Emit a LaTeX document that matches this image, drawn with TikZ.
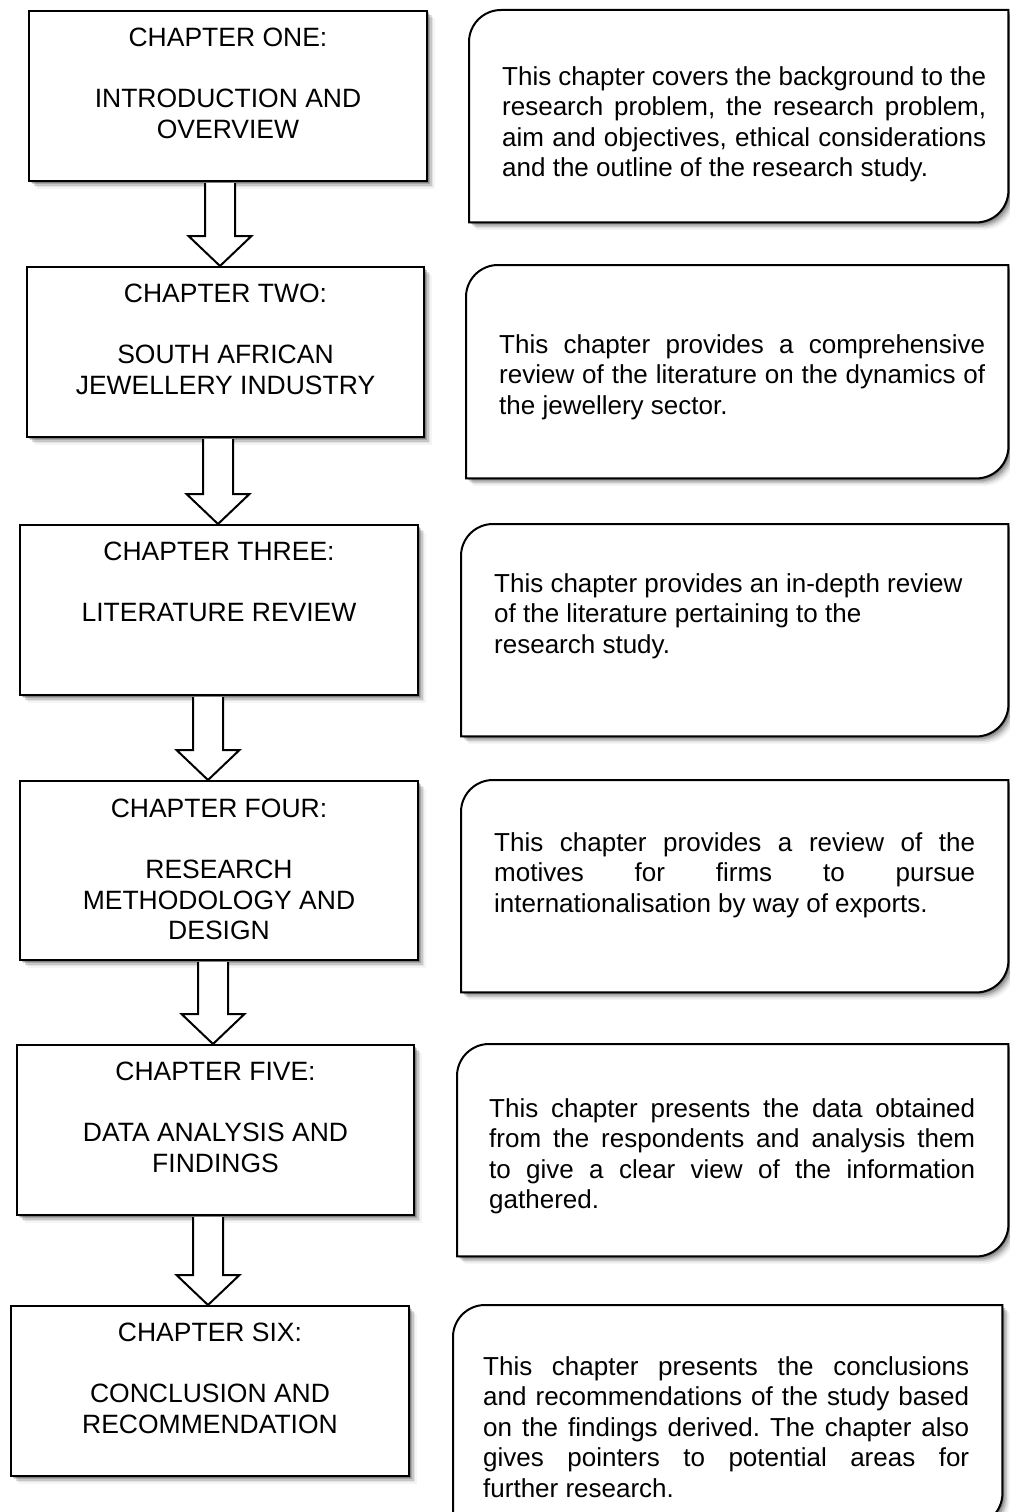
\documentclass[tikz,border=0pt]{standalone}
\usepackage{fontspec}
\setmainfont{Liberation Sans}
\usetikzlibrary{calc,shadows}
\frenchspacing

% one justified line of a summary paragraph
\newcommand\jline[2]{\makebox[#1][s]{#2}}

\tikzset{
  softshadow/.style={
    drop shadow={shadow xshift=1.5pt,shadow yshift=-1.5pt,opacity=.22,fill=black},
    drop shadow={shadow xshift=3pt,shadow yshift=-3pt,opacity=.17,fill=black},
    drop shadow={shadow xshift=4.5pt,shadow yshift=-4.5pt,opacity=.12,fill=black},
    drop shadow={shadow xshift=6pt,shadow yshift=-6pt,opacity=.07,fill=black},
    drop shadow={shadow xshift=7.5pt,shadow yshift=-7.5pt,opacity=.04,fill=black}},
  chapbox/.style={draw=black, line width=2pt, fill=white, inner sep=0pt,
    anchor=north west, softshadow},
  frame/.style={inner sep=0pt, anchor=north west},
  notebox/.style={draw=black, line width=2pt, fill=white, softshadow},
  arrowbody/.style={draw=black, line width=2pt, fill=white, line join=miter},
  chaptext/.style={inner sep=0pt, anchor=north, align=center,
    font=\fontsize{26.5pt}{30.5pt}\selectfont},
  notetext/.style={inner sep=0pt, anchor=north west, align=left,
    font=\fontsize{26pt}{30.5pt}\selectfont},
}

% summary box: rounded top-left and bottom-right corners
\newcommand\notepath[1]{%
  \draw[notebox] (#1.south west) -- ([yshift=-32pt]#1.north west)
    arc[start angle=180, end angle=90, radius=32pt] -- (#1.north east)
    -- ([yshift=32pt]#1.south east)
    arc[start angle=0, end angle=-90, radius=32pt] -- cycle;}

% hollow block arrow from one chapter box to the next, centred at x = #3
\newcommand\chaparrow[3]{%
  \path[arrowbody] let \p1=(#1.south), \p2=(#2.north) in
    (#3pt-15pt,\y1-1pt) -- (#3pt-15pt,\y2+30pt) -- (#3pt-31.5pt,\y2+30pt)
    -- (#3pt,\y2) -- (#3pt+31.5pt,\y2+30pt) -- (#3pt+15pt,\y2+30pt)
    -- (#3pt+15pt,\y1-1pt);}

\begin{document}
\begin{tikzpicture}[x=1pt, y=-1pt]
  \fill[white] (0,0) rectangle (1009,1512);
  \useasboundingbox (0,0) rectangle (1009,1512);

  % chapter boxes
  \node[chapbox, minimum width=398pt, minimum height=170pt] (b1) at (28,10) {};
  \node[chapbox, minimum width=397pt, minimum height=170pt] (b2) at (26,266) {};
  \node[chapbox, minimum width=398pt, minimum height=170pt] (b3) at (19,524) {};
  \node[chapbox, minimum width=398pt, minimum height=179pt] (b4) at (19,780) {};
  \node[chapbox, minimum width=397pt, minimum height=170pt] (b5) at (16,1044) {};
  \node[chapbox, minimum width=398pt, minimum height=170pt] (b6) at (10,1305) {};

  \node[chaptext] (t1) at ($(b1.north)+(0,18)$) {CHAPTER ONE:\\[30.5pt]INTRODUCTION AND\\OVERVIEW};
  \node[chaptext] (t2) at ($(b2.north)+(0,18)$) {CHAPTER TWO:\\[30.5pt]SOUTH AFRICAN\\JEWELLERY INDUSTRY};
  \node[chaptext] (t3) at ($(b3.north)+(0,18)$) {CHAPTER THREE:\\[30.5pt]LITERATURE REVIEW};
  \node[chaptext] (t4) at ($(b4.north)+(0,19)$) {CHAPTER FOUR:\\[30.5pt]RESEARCH\\METHODOLOGY AND\\DESIGN};
  \node[chaptext] (t5) at ($(b5.north)+(0,18)$) {CHAPTER FIVE:\\[30.5pt]DATA ANALYSIS AND\\FINDINGS};
  \node[chaptext] (t6) at ($(b6.north)+(0,18)$) {CHAPTER SIX:\\[30.5pt]CONCLUSION AND\\RECOMMENDATION};

  % arrows between chapters
  \chaparrow{b1}{b2}{220}
  \chaparrow{b2}{b3}{218}
  \chaparrow{b3}{b4}{208}
  \chaparrow{b4}{b5}{213}
  \chaparrow{b5}{b6}{208}

  % summary boxes
  \node[frame, minimum width=539pt, minimum height=212pt] (r1) at (469,10) {};
  \node[frame, minimum width=542pt, minimum height=213pt] (r2) at (466,265) {};
  \node[frame, minimum width=547pt, minimum height=212pt] (r3) at (461,524) {};
  \node[frame, minimum width=547pt, minimum height=212pt] (r4) at (461,780) {};
  \node[frame, minimum width=551pt, minimum height=212pt] (r5) at (457,1044) {};
  \node[frame, minimum width=549pt, minimum height=220pt] (r6) at (453,1305) {};
  \notepath{r1}
  \notepath{r2}
  \notepath{r3}
  \notepath{r4}
  \notepath{r5}
  \notepath{r6}

  \node[notetext] (s1) at (502,66) {%
    \jline{484pt}{This chapter covers the background to the}\\
    \jline{484pt}{research problem, the research problem,}\\
    \jline{484pt}{aim and objectives, ethical considerations}\\
    and the outline of the research study.};
  \node[notetext] (s2) at (499,334) {%
    \jline{486pt}{This chapter provides a comprehensive}\\
    \jline{486pt}{review of the literature on the dynamics of}\\
    the jewellery sector.};
  \node[notetext] (s3) at (494,573) {%
    This chapter provides an in-depth review\\
    of the literature pertaining to the\\
    research study.};
  \node[notetext] (s4) at (494,832) {%
    \jline{481pt}{This chapter provides a review of the}\\
    \jline{481pt}{motives for firms to pursue}\\
    internationalisation by way of exports.};
  \node[notetext] (s5) at (489,1098) {%
    \jline{486pt}{This chapter presents the data obtained}\\
    \jline{486pt}{from the respondents and analysis them}\\
    \jline{486pt}{to give a clear view of the information}\\
    gathered.};
  \node[notetext] (s6) at (483,1356) {%
    \jline{486pt}{This chapter presents the conclusions}\\
    \jline{486pt}{and recommendations of the study based}\\
    \jline{486pt}{on the findings derived. The chapter also}\\
    \jline{486pt}{gives pointers to potential areas for}\\
    further research.};
\end{tikzpicture}
\end{document}
